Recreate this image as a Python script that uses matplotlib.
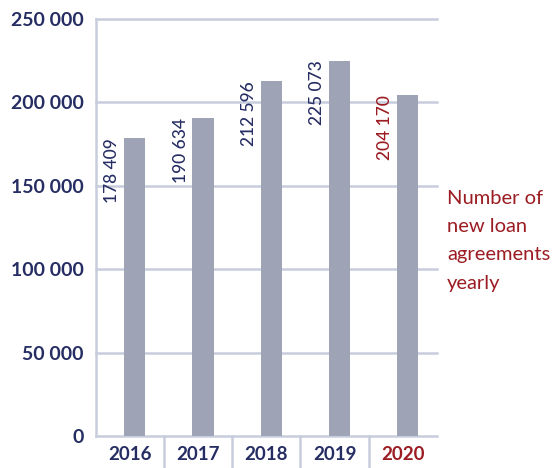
import matplotlib
matplotlib.use("Agg")
import matplotlib.pyplot as plt
from matplotlib.transforms import blended_transform_factory

years = ["2016", "2017", "2018", "2019", "2020"]
agreements = [178409, 190634, 212596, 225073, 204170]
value_labels = ["178 409", "190 634", "212 596", "225 073", "204 170"]
y_ticks = [0, 50000, 100000, 150000, 200000, 250000]
y_tick_labels = ["0", "50 000", "100 000", "150 000", "200 000", "250 000"]
caption = "Number of\nnew loan\nagreements\nyearly"

NAVY = "#262d63"
RED = "#9b1c22"
BAR = "#9ea3b5"
GRID = "#c7cddd"

plt.rcParams["font.family"] = ["Lato", "DejaVu Sans"]

fig = plt.figure(figsize=(5.55, 4.68), dpi=100)
ax = fig.add_axes([0.173, 0.0684, 0.614, 0.891])

bar_offset = 0.07
bar_width = 0.31
xs = [i + bar_offset for i in range(len(years))]
ax.bar(xs, agreements, width=bar_width, color=BAR, zorder=3)

ax.set_xlim(-0.5, len(years) - 0.5)
ax.set_ylim(0, 250000)

# horizontal grid and left axis line
for t in y_ticks:
    ax.axhline(t, color=GRID, lw=1.8, zorder=1, clip_on=False)
ax.plot([-0.5, -0.5], [0, 250000], color=GRID, lw=1.8, zorder=1, clip_on=False)

for s in ax.spines.values():
    s.set_visible(False)

ax.set_yticks(y_ticks)
ax.set_yticklabels(y_tick_labels, fontsize=14, fontweight="bold", color=NAVY)
ax.tick_params(axis="y", length=0, pad=9)

ax.set_xticks(range(len(years)))
ax.set_xticklabels(years, fontsize=13.5, fontweight="bold")
for lbl, yr in zip(ax.get_xticklabels(), years):
    lbl.set_color(RED if yr == "2020" else NAVY)
ax.tick_params(axis="x", length=0, pad=7)

# dividers between year categories under the baseline
trans = blended_transform_factory(ax.transData, ax.transAxes)
for b in range(1, len(years)):
    ax.plot([b - 0.5, b - 0.5], [0, -0.08], color=GRID, lw=1.8,
            transform=trans, clip_on=False)

# value labels, rotated, to the left of each bar
for i, (v, txt) in enumerate(zip(agreements, value_labels)):
    col = RED if years[i] == "2020" else NAVY
    ax.text(i + bar_offset - 0.33, v, txt, rotation=90, ha="center", va="top",
            fontsize=12.5, fontweight="medium", color=col, zorder=4)

fig.text(447 / 555, 1 - 190 / 468, caption, ha="left", va="top",
         fontsize=14.5, color=RED, linespacing=1.8)

fig.savefig("out.png", dpi=100)
